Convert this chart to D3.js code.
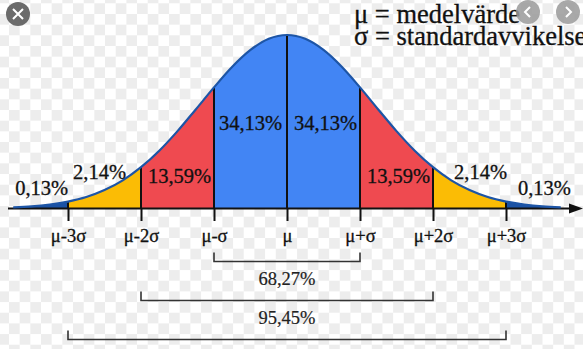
<!DOCTYPE html>
<html>
<head>
<meta charset="utf-8">
<script src="https://cdn.jsdelivr.net/npm/d3@7"></script>
<style>
	body { margin: 0; background: #fff; }
</style>
</head>
<body>
<div id="chart-area"></div>
<script>

// bell curve: position in sigma steps, height relative to the peak
let curveX = [-3.75, -3.5, -3.25, -3, -2.75, -2.5, -2.25, -2, -1.75, -1.5, -1.25, -1, -0.75, -0.5, -0.25, 0,
	0.25, 0.5, 0.75, 1, 1.25, 1.5, 1.75, 2, 2.25, 2.5, 2.75, 3, 3.25, 3.5, 3.75];
let curveH = [0.006, 0.012, 0.023, 0.040, 0.066, 0.106, 0.162, 0.238, 0.333, 0.446, 0.571, 0.698, 0.817, 0.914, 0.978, 1,
	0.978, 0.914, 0.817, 0.698, 0.571, 0.446, 0.333, 0.238, 0.162, 0.106, 0.066, 0.040, 0.023, 0.012, 0.006];

// axis ticks
let tickValues = [-3, -2, -1, 0, 1, 2, 3];
let tickLabels = ["μ-3σ", "μ-2σ", "μ-σ", "μ", "μ+σ", "μ+2σ", "μ+3σ"];

// shaded bands under the curve
let bandStart = [-3.75, -3, -2, -1, 0, 1, 2, 3];
let bandEnd = [-3, -2, -1, 0, 1, 2, 3, 3.75];
let bandPct = ["0,13%", "2,14%", "13,59%", "34,13%", "34,13%", "13,59%", "2,14%", "0,13%"];

// brackets below the axis (+/- k sigma)
let spanK = [1, 2, 3];
let spanPct = ["68,27%", "95,45%", "99,73%"];

// legend
let legendLines = ["μ = medelvärde", "σ = standardavvikelse"];

// styles / layout
let serif = "'Liberation Serif', 'Times New Roman', 'DejaVu Serif', serif";
let bandColor = ["#1b52a4", "#fbbc05", "#ef4a50", "#4285f4", "#4285f4", "#ef4a50", "#fbbc05", "#1b52a4"];
let labelDx = [1, -5, 2, 0, 2, 2, 11, 11];
let labelLift = [13.5, 29.5, 25.5, 78.5, 78.5, 25.5, 29.5, 13.5];

let width = 583, height = 349;

let svg = d3.select("#chart-area").append("svg")
	.attr("width", width)
	.attr("height", height)
	.attr("font-family", serif);

// checkerboard background (transparent image look)
let defs = svg.append("defs");
let cs = 10.67;
let pat = defs.append("pattern")
	.attr("id", "checker")
	.attr("patternUnits", "userSpaceOnUse")
	.attr("x", -1.67).attr("y", 3.3)
	.attr("width", cs * 2).attr("height", cs * 2);
pat.append("rect").attr("width", cs * 2).attr("height", cs * 2).attr("fill", "#ffffff");
pat.append("rect").attr("x", cs).attr("y", 0).attr("width", cs).attr("height", cs).attr("fill", "#ededed");
pat.append("rect").attr("x", 0).attr("y", cs).attr("width", cs).attr("height", cs).attr("fill", "#ededed");

svg.append("rect")
	.attr("width", width).attr("height", height)
	.attr("fill", "url(#checker)");

// scales
let x = d3.scaleLinear()
	.domain([-3, 3])
	.range([68, 506]);

let y = d3.scaleLinear()
	.domain([0, 1])
	.range([208.5, 35]);

let pts = curveX.map((d, i) => [d, curveH[i]]);

let area = d3.area()
	.x(d => x(d[0]))
	.y0(y(0))
	.y1(d => y(d[1]))
	.curve(d3.curveMonotoneX);

let line = d3.line()
	.x(d => x(d[0]))
	.y(d => y(d[1]))
	.curve(d3.curveMonotoneX);

// bands
bandStart.forEach((s, i) => {
	defs.append("clipPath")
		.attr("id", "band" + i)
		.append("rect")
		.attr("x", x(s))
		.attr("y", 0)
		.attr("width", x(bandEnd[i]) - x(s))
		.attr("height", height);

	svg.append("path")
		.datum(pts)
		.attr("d", area)
		.attr("fill", bandColor[i])
		.attr("clip-path", "url(#band" + i + ")");
});

// x axis line with arrow
svg.append("line")
	.attr("x1", 8).attr("x2", 572)
	.attr("y1", y(0)).attr("y2", y(0))
	.attr("stroke", "#111")
	.attr("stroke-width", 2);

svg.append("path")
	.attr("d", "M569," + (y(0) - 5) + "L583," + y(0) + "L569," + (y(0) + 5) + "Z")
	.attr("fill", "#111");

// vertical separators from curve to axis
svg.selectAll(".sep")
	.data(tickValues)
	.enter()
	.append("line")
	.attr("class", "sep")
	.attr("x1", d => x(d)).attr("x2", d => x(d))
	.attr("y1", d => y(curveH[curveX.indexOf(d)]))
	.attr("y2", y(0))
	.attr("stroke", "#111")
	.attr("stroke-width", 2);

// curve outline
svg.append("path")
	.datum(pts)
	.attr("d", line)
	.attr("fill", "none")
	.attr("stroke", "#1d55a6")
	.attr("stroke-width", 2.2);

// ticks + labels
let xAxis = svg.append("g")
	.attr("class", "x-axis axis")
	.attr("transform", "translate(0," + y(0) + ")")
	.call(d3.axisBottom(x)
		.tickValues(tickValues)
		.tickFormat((d, i) => tickLabels[i])
		.tickSize(12.5)
		.tickPadding(8));

xAxis.attr("font-family", serif).attr("font-size", 18.5);
xAxis.select(".domain").remove();
xAxis.selectAll(".tick line")
	.attr("stroke", "#111")
	.attr("stroke-width", 2);
xAxis.selectAll(".tick text")
	.attr("fill", "#111")
	.attr("stroke", "#111")
	.attr("stroke-width", 0.3);

// percentage labels in the bands
svg.selectAll(".pct")
	.data(bandPct)
	.enter()
	.append("text")
	.attr("class", "pct")
	.attr("x", (d, i) => x((bandStart[i] + bandEnd[i]) / 2) + labelDx[i])
	.attr("y", (d, i) => y(0) - labelLift[i])
	.attr("text-anchor", "middle")
	.attr("font-size", 20.5)
	.attr("fill", "#111")
	.attr("stroke", "#111")
	.attr("stroke-width", 0.3)
	.text(d => d);

// brackets
spanK.forEach((k, i) => {
	let by = 261.5 + i * 39;
	svg.append("path")
		.attr("d", "M" + x(-k) + "," + (by - 9) + "V" + by + "H" + x(k) + "V" + (by - 9))
		.attr("fill", "none")
		.attr("stroke", "#333")
		.attr("stroke-width", 1.6);

	svg.append("text")
		.attr("x", x(0))
		.attr("y", by + 23.5)
		.attr("text-anchor", "middle")
		.attr("font-size", 18.5)
		.attr("fill", "#222")
		.attr("stroke", "#222")
		.attr("stroke-width", 0.2)
		.text(spanPct[i]);
});

// legend
svg.selectAll(".legend")
	.data(legendLines)
	.enter()
	.append("text")
	.attr("class", "legend")
	.attr("x", 354)
	.attr("y", (d, i) => 23 + i * 22)
	.attr("font-size", 26.5)
	.attr("fill", "#111")
	.attr("stroke", "#111")
	.attr("stroke-width", 0.3)
	.text(d => d);

// image viewer overlay buttons
let closeBtn = svg.append("g").attr("transform", "translate(18,14)");
closeBtn.append("circle").attr("r", 12).attr("fill", "#6b6b6b");
closeBtn.append("path")
	.attr("d", "M-5,-5L5,5M5,-5L-5,5")
	.attr("stroke", "#fff").attr("stroke-width", 2);

[[528, "M2,-5L-3,0L2,5"], [568, "M-2,-5L3,0L-2,5"]].forEach(b => {
	let g = svg.append("g").attr("transform", "translate(" + b[0] + ",12)");
	g.append("circle").attr("r", 12).attr("fill", "#9a9a9a").attr("opacity", 0.85);
	g.append("path")
		.attr("d", b[1])
		.attr("fill", "none")
		.attr("stroke", "#fff").attr("stroke-width", 2);
});

</script>
</body>
</html>
